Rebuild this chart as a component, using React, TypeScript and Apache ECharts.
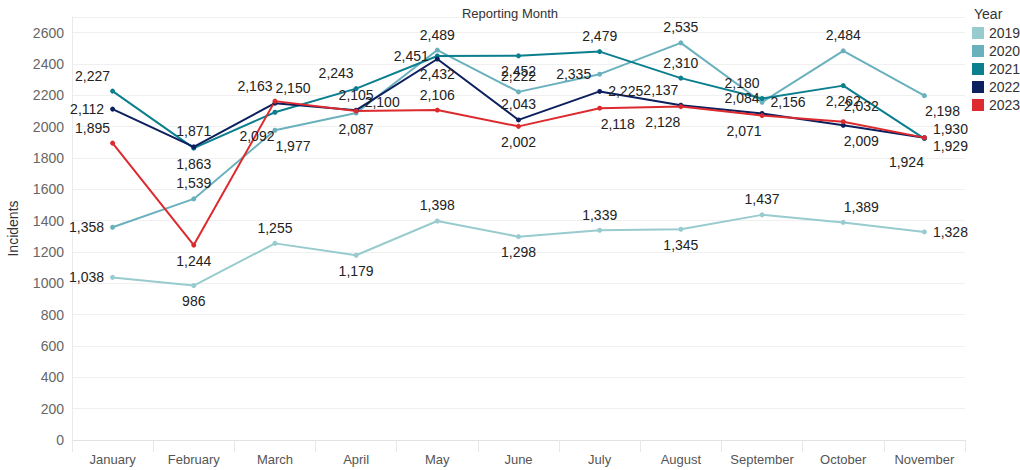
import React, { useEffect, useRef } from "react";
import * as echarts from "echarts";

const months = ["January", "February", "March", "April", "May", "June", "July", "August", "September", "October", "November"];
const years = ["2019", "2020", "2021", "2022", "2023"];

const v2019 = [1038, 986, 1255, 1179, 1398, 1298, 1339, 1345, 1437, 1389, 1328];
const v2020 = [1358, 1539, 1977, 2087, 2489, 2222, 2335, 2535, 2156, 2484, 2198];
const v2021 = [2227, 1863, 2092, 2243, 2451, 2452, 2479, 2310, 2180, 2262, 1924];
const v2022 = [2112, 1871, 2150, 2105, 2432, 2043, 2225, 2137, 2084, 2009, 1929];
const v2023 = [1895, 1244, 2163, 2100, 2106, 2002, 2118, 2128, 2071, 2032, 1930];

const yTicks = [0, 200, 400, 600, 800, 1000, 1200, 1400, 1600, 1800, 2000, 2200, 2400, 2600];

// label placement codes (style only)
const lp2019 = ["l", "b", "t", "b", "t", "b", "t", "b", "t", "tr", "r"];
const lp2020 = ["l", "t", "br", "b", "t", "t", "l", "t", "r", "t", "br"];
const lp2021 = ["tl", "b", "bl2", "tl", "l", "b", "t", "t", "tl", "b", "bl2"];
const lp2022 = ["l", "t", "tr", "t", "b", "t", "r", "tl", "tl", "br", "rb"];
const lp2023 = ["tl", "b", "tl", "rt", "t", "b", "br", "bl", "bl", "tr", "rt"];

const colors = ["#98CBCE", "#6AB1BD", "#0B7F8E", "#0C1F5E", "#DC2A2E"];

const placement: Record<string, { position: string; offset: number[] }> = {
  t: { position: "top", offset: [0, 0] },
  b: { position: "bottom", offset: [0, 0] },
  l: { position: "left", offset: [0, 0] },
  r: { position: "right", offset: [0, 0] },
  tl: { position: "top", offset: [-20, 0] },
  tr: { position: "top", offset: [18, 0] },
  bl: { position: "bottom", offset: [-18, 0] },
  bl2: { position: "bottom", offset: [-18, 8] },
  br: { position: "bottom", offset: [18, 0] },
  rb: { position: "right", offset: [0, 8] },
  rt: { position: "right", offset: [0, -9] },
};

const fmt = (n: number) => n.toLocaleString("en-US");

function buildSeries(name: string, values: number[], lp: string[], color: string) {
  return {
    name,
    type: "line",
    data: values.map((v, i) => ({
      value: v,
      label: {
        position: placement[lp[i]].position,
        offset: placement[lp[i]].offset,
      },
    })),
    symbol: "circle",
    symbolSize: 5,
    lineStyle: { width: 2, color },
    itemStyle: { color },
    label: {
      show: true,
      color: "#222",
      fontSize: 14,
      fontFamily: "Arial, 'Liberation Sans', sans-serif",
      distance: 6,
      formatter: (p: any) => fmt(p.value),
    },
  };
}

export default function App() {
  const ref = useRef<HTMLDivElement>(null);
  useEffect(() => {
    if (!ref.current) return;
    const chart = echarts.init(ref.current, undefined, { renderer: "svg" });
    const series = [
      buildSeries(years[0], v2019, lp2019, colors[0]),
      buildSeries(years[1], v2020, lp2020, colors[1]),
      buildSeries(years[2], v2021, lp2021, colors[2]),
      buildSeries(years[3], v2022, lp2022, colors[3]),
      buildSeries(years[4], v2023, lp2023, colors[4]),
    ];
    chart.setOption({
      animation: false,
      color: colors,
      textStyle: { fontFamily: "Arial, 'Liberation Sans', sans-serif" },
      title: [
        {
          text: "Reporting Month",
          left: 505,
          top: 2,
          textAlign: "center",
          textStyle: { fontSize: 13, fontWeight: "normal", color: "#333" },
        },
        {
          text: "Year",
          left: 969,
          top: 2,
          textStyle: { fontSize: 14, fontWeight: "normal", color: "#333" },
        },
      ],
      legend: {
        orient: "vertical",
        left: 972,
        top: 26,
        padding: 0,
        icon: "rect",
        itemWidth: 12,
        itemHeight: 12,
        itemGap: 4,
        data: years,
        textStyle: { fontSize: 14, color: "#333" },
      },
      grid: { left: 72, right: 55, top: 17, bottom: 30, containLabel: false, outerBoundsMode: "none" },
      xAxis: {
        type: "category",
        data: months,
        offset: 8,
        axisLine: { show: true, lineStyle: { color: "#e2e2e2" } },
        axisTick: { show: true, length: 12, lineStyle: { color: "#e8e8e8" } },
        axisLabel: {
          interval: 0,
          color: "#555",
          fontSize: 13,
          margin: 5,
        },
      },
      yAxis: {
        type: "value",
        min: yTicks[0],
        max: 2700,
        interval: 200,
        name: "Incidents",
        nameLocation: "middle",
        nameGap: 52,
        nameTextStyle: { fontSize: 14, color: "#333" },
        axisLine: { show: true, lineStyle: { color: "#eaeaea" } },
        axisTick: { show: false },
        axisLabel: {
          color: "#666",
          fontSize: 14,
          margin: 8,
          showMaxLabel: false,
          formatter: (v: number) => (yTicks.indexOf(v) >= 0 ? String(v) : ""),
        },
        splitLine: { show: true, lineStyle: { color: "#f0f0f0" } },
      },
      series,
    });
    return () => chart.dispose();
  }, []);
  return (
    <div
      ref={ref}
      style={{ position: "fixed", left: 0, top: 0, width: 1020, height: 470, background: "#fff" }}
    />
  );
}
